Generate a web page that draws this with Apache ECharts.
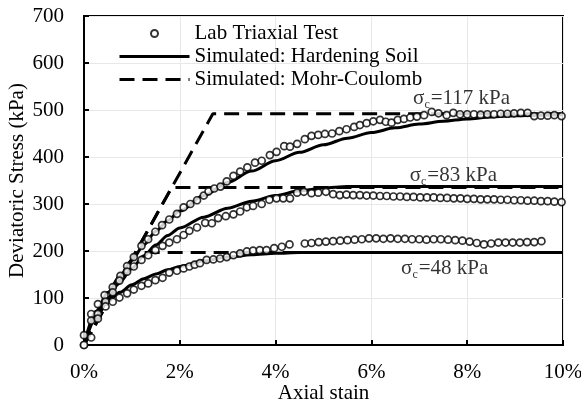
<!DOCTYPE html>
<html>
<head>
<meta charset="utf-8">
<script src="https://cdn.jsdelivr.net/npm/echarts@6/dist/echarts.min.js"></script>
<style>
  html, body { margin: 0; padding: 0; background: #fff; }
  #chart { width: 581px; height: 407px; }
</style>
</head>
<body>
<div id="chart"></div>
<script>
// Axis ticks
const xTicks = [0, 2, 4, 6, 8, 10];          // axial strain, %
const yTicks = [0, 100, 200, 300, 400, 500, 600, 700]; // kPa

// Lab triaxial test, confining stress 117 kPa
const lab117Strain = [0, 0.15, 0.29, 0.43, 0.60, 0.76, 0.90, 1.04, 1.20, 1.34,
  1.49, 1.63, 1.78, 1.94, 2.08, 2.22, 2.36, 2.50, 2.60, 2.72,
  2.85, 2.98, 3.12, 3.26, 3.41, 3.57, 3.71, 3.88, 4.02, 4.18,
  4.30, 4.45, 4.61, 4.75, 4.89, 5.03, 5.18, 5.33, 5.48, 5.64,
  5.76, 5.90, 6.04, 6.18, 6.30, 6.42, 6.55, 6.68, 6.81, 6.95,
  7.10, 7.26, 7.40, 7.57, 7.71, 7.85, 8.00, 8.14, 8.28, 8.42,
  8.56, 8.70, 8.84, 8.98, 9.12, 9.26, 9.40, 9.54, 9.68, 9.82, 9.97];
const lab117Stress = [0, 66, 87, 106, 123, 147, 168, 187, 211, 225,
  241, 255, 267, 279, 293, 300, 308, 318, 327, 333,
  337, 348, 360, 369, 378, 388, 392, 404, 411, 423,
  422, 428, 438, 445, 447, 449, 450, 455, 459, 464,
  468, 472, 476, 479, 475, 473, 479, 481, 484, 486,
  489, 496, 493, 489, 494, 491, 491, 491, 490, 491,
  491, 492, 492, 493, 494, 494, 487, 488, 488, 489, 487];

// Lab triaxial test, confining stress 83 kPa
const lab83Strain = [0, 0.15, 0.29, 0.45, 0.60, 0.74, 0.90, 1.04, 1.20, 1.34,
  1.49, 1.64, 1.78, 1.94, 2.08, 2.20, 2.36, 2.53, 2.67, 2.80,
  2.96, 3.12, 3.26, 3.40, 3.53, 3.71, 3.87, 4.02, 4.16, 4.30,
  4.45, 4.59, 4.75, 4.89, 5.05, 5.20, 5.34, 5.48, 5.62, 5.76,
  5.90, 6.04, 6.18, 6.32, 6.46, 6.60, 6.74, 6.88, 7.02, 7.16,
  7.30, 7.44, 7.58, 7.72, 7.86, 8.00, 8.14, 8.28, 8.42, 8.56,
  8.70, 8.84, 8.98, 9.12, 9.26, 9.40, 9.54, 9.68, 9.82, 9.97];
const lab83Stress = [21, 52, 66, 92, 112, 137, 156, 167, 181, 191,
  202, 211, 218, 225, 234, 243, 250, 260, 259, 270,
  274, 278, 284, 293, 296, 300, 309, 312, 312, 312,
  324, 326, 323, 324, 326, 321, 319, 320, 319, 319,
  318, 318, 317, 317, 316, 316, 315, 315, 314, 314,
  314, 313, 313, 312, 312, 311, 311, 310, 310, 310,
  309, 309, 308, 308, 307, 307, 306, 306, 305, 304];

// Lab triaxial test, confining stress 48 kPa
const lab48Strain = [0, 0.15, 0.29, 0.45, 0.60, 0.74, 0.90, 1.04, 1.20, 1.34,
  1.49, 1.64, 1.78, 1.94, 2.08, 2.20, 2.31, 2.42, 2.56, 2.70,
  2.84, 2.98, 3.12, 3.26, 3.40, 3.53, 3.67, 3.81, 3.97, 4.13,
  4.29, 4.61, 4.75, 4.90, 5.05, 5.20, 5.35, 5.50, 5.65, 5.80,
  5.95, 6.10, 6.25, 6.40, 6.55, 6.70, 6.85, 7.00, 7.15, 7.30,
  7.45, 7.60, 7.75, 7.90, 8.05, 8.20, 8.35, 8.50, 8.65, 8.80,
  8.95, 9.10, 9.25, 9.40, 9.55];
const lab48Stress = [0, 16, 56, 82, 92, 101, 110, 118, 126, 131,
  138, 143, 154, 158, 163, 167, 171, 174, 181, 182,
  184, 187, 191, 195, 199, 201, 202, 202, 206, 209,
  214, 216, 217, 219, 220, 221, 222, 223, 224, 225,
  227, 227, 226, 227, 226, 226, 225, 225, 224, 225,
  225, 224, 223, 222, 220, 217, 214, 216, 218, 218,
  218, 218, 219, 219, 221];

// Hardening Soil simulations
const hsStrain = [0, 0.25, 0.5, 0.75, 1.0, 1.25, 1.5, 1.75, 2.0, 2.5, 3.0, 3.5,
  4.0, 4.5, 5.0, 5.5, 6.0, 6.5, 7.0, 7.5, 8.0, 8.5, 9.0, 9.5, 10];
const hs117Stress = [0, 72, 112, 147, 181, 213, 242, 265, 285, 318, 346, 370,
  392, 410, 426, 440, 452, 462, 470, 476, 481, 485, 488, 489, 490];
const hs83Stress = [0, 62, 100, 134, 163, 190, 213, 233, 249, 272, 291, 306,
  318, 328, 334, 337, 337, 337, 337, 337, 337, 337, 337, 337, 337];
const hs48Stress = [0, 58, 93, 112, 128, 141, 151, 160, 167, 179, 187, 192,
  195, 197, 197, 197, 197, 197, 197, 197, 197, 197, 197, 197, 197];

// Mohr-Coulomb simulations (linear elastic, then perfectly plastic)
const mc117Strain = [0, 2.69, 10];
const mc117Stress = [0, 492, 492];
const mc83Strain = [0, 1.83, 10];
const mc83Stress = [0, 335, 335];
const mc48Strain = [0, 1.08, 10];
const mc48Stress = [0, 197, 197];

const FONT = 'Liberation Serif';
const FS = 21;
const pairs = (xs, ys) => xs.map((x, i) => [x, ys[i]]);

const LAB = 'Lab Triaxial Test';
const HS = 'Simulated: Hardening Soil';
const MC = 'Simulated: Mohr-Coulomb';

function labSeries(xs, ys) {
  return {
    name: LAB, type: 'scatter', z: 5,
    symbol: 'circle', symbolSize: 7,
    itemStyle: { color: '#fff', borderColor: '#000', borderWidth: 1.7 },
    data: pairs(xs, ys)
  };
}
function hsSeries(xs, ys) {
  return {
    name: HS, type: 'line', z: 3, symbol: 'none', smooth: 0.3, smoothMonotone: 'x',
    lineStyle: { color: '#000', width: 3 },
    itemStyle: { color: '#000' },
    data: pairs(xs, ys)
  };
}
function mcSeries(xs, ys) {
  return {
    name: MC, type: 'line', z: 2, symbol: 'none',
    lineStyle: { color: '#000', width: 3, type: [15, 8] },
    itemStyle: { color: '#000' },
    data: pairs(xs, ys)
  };
}

const richLabel = {
  s: { fontFamily: FONT, fontSize: FS, color: '#000', lineHeight: 23 },
  c: { fontFamily: FONT, fontSize: 12, color: '#000', lineHeight: 23, padding: [12, 1, 0, 0] }
};
function stressNote(x, y, text) {
  return {
    type: 'scatter', silent: true, z: 6, symbolSize: 0,
    data: [[x, y]],
    label: {
      show: true, position: 'right', distance: 0,
      formatter: '{s|σ}{c|c}{s|' + text + '}',
      rich: richLabel
    },
    tooltip: { show: false }
  };
}

// hide the centre marker that line series draw in their legend icon
const noMarker = { opacity: 0 };

const chart = echarts.init(document.getElementById('chart'), null, { renderer: 'canvas' });
chart.setOption({
  animation: false,
  backgroundColor: '#fff',
  grid: {
    left: 84, right: 18, top: 16, bottom: 62,
    outerBoundsMode: 'none', containLabel: false,
    show: true, borderColor: '#000', borderWidth: 2, backgroundColor: 'transparent'
  },
  legend: {
    orient: 'vertical', left: 118, top: 23, padding: 0,
    itemWidth: 70, itemHeight: 14, itemGap: 2,
    lineStyle: { width: 3 },
    textStyle: { fontFamily: FONT, fontSize: FS, color: '#000' },
    data: [
      { name: LAB, icon: 'path://M0,0M70,14M31.5,7a3.5,3.5 0 1,0 7,0a3.5,3.5 0 1,0 -7,0' },
      { name: HS, itemStyle: noMarker },
      { name: MC, itemStyle: noMarker }
    ]
  },
  xAxis: {
    type: 'value', min: xTicks[0], max: xTicks[xTicks.length - 1],
    interval: xTicks[1] - xTicks[0],
    name: 'Axial stain', nameLocation: 'middle', nameGap: 38, nameMoveOverlap: false,
    nameTextStyle: { fontFamily: FONT, fontSize: FS, color: '#000' },
    axisLine: { lineStyle: { color: '#000', width: 2 } },
    axisTick: { inside: true, length: 5, lineStyle: { color: '#000', width: 2 } },
    axisLabel: { fontFamily: FONT, fontSize: FS, color: '#000', margin: 17, formatter: '{value}%' },
    splitLine: { show: true, lineStyle: { color: '#e8e8e8', width: 1 } }
  },
  yAxis: {
    type: 'value', min: yTicks[0], max: yTicks[yTicks.length - 1],
    interval: yTicks[1] - yTicks[0],
    name: 'Deviatoric Stress (kPa)', nameLocation: 'middle', nameGap: 56, nameMoveOverlap: false,
    nameTextStyle: { fontFamily: FONT, fontSize: FS, color: '#000' },
    axisLine: { lineStyle: { color: '#000', width: 2 } },
    axisTick: { inside: true, length: 5, lineStyle: { color: '#000', width: 2 } },
    axisLabel: { fontFamily: FONT, fontSize: FS, color: '#000', margin: 20 },
    splitLine: { show: true, lineStyle: { color: '#e8e8e8', width: 1 } }
  },
  series: [
    mcSeries(mc117Strain, mc117Stress),
    mcSeries(mc83Strain, mc83Stress),
    mcSeries(mc48Strain, mc48Stress),
    hsSeries(hsStrain, hs117Stress),
    hsSeries(hsStrain, hs83Stress),
    hsSeries(hsStrain, hs48Stress),
    labSeries(lab117Strain, lab117Stress),
    labSeries(lab83Strain, lab83Stress),
    labSeries(lab48Strain, lab48Stress),
    stressNote(6.87, 524, '=117 kPa'),
    stressNote(6.80, 360, '=83 kPa'),
    stressNote(6.62, 162, '=48 kPa')
  ]
});
</script>
</body>
</html>
